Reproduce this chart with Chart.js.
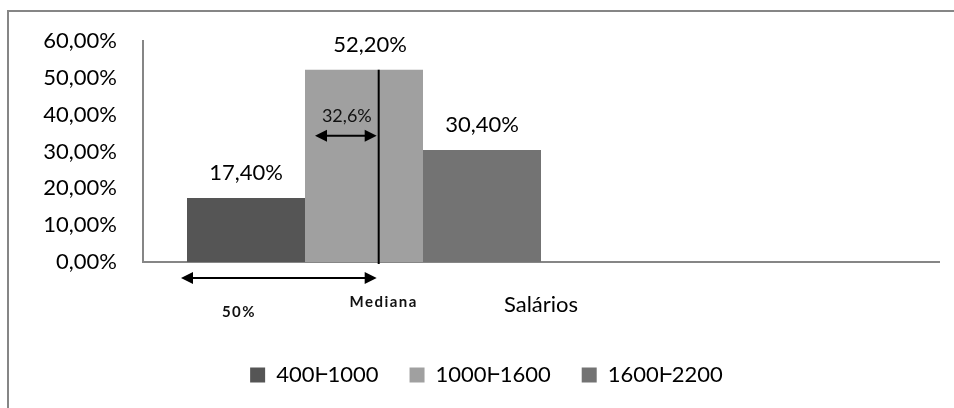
<!DOCTYPE html>
<html>
<head>
<meta charset="utf-8">
<title>Salários</title>
<script src="https://cdn.jsdelivr.net/npm/chart.js@4/dist/chart.umd.min.js"></script>
<style>
  html, body { margin: 0; padding: 0; background: #ffffff; }
  #wrap { width: 954px; height: 408px; position: relative; }
</style>
</head>
<body>
<div id="wrap"><canvas id="chart" width="954" height="408"></canvas></div>
<script>
// Salary classes and the share of employees in each one (%)
const categories = ['Salários'];
const classes = ['400\u2C751000', '1000\u2C751600', '1600\u2C752200'];
const shares = [17.4, 52.2, 30.4];
const classColors = ['#555555', '#a0a0a0', '#737373'];
const yTicks = [0, 10, 20, 30, 40, 50, 60];

const FONT = 'Lato, "Open Sans", sans-serif';
const pct2 = v => Number(v).toFixed(2).replace('.', ',') + '%';
const pct1 = v => Number(v).toFixed(1).replace('.', ',') + '%';

// three class bars plus three empty slots, so the group sits in the left half of the category
const datasets = classes.map((label, i) => ({
  label,
  data: [shares[i]],
  backgroundColor: classColors[i],
  borderWidth: 0
}));
for (let k = 0; k < 3; k++) {
  datasets.push({ label: '', data: [null], backgroundColor: 'rgba(0,0,0,0)', borderWidth: 0 });
}

function arrow(ctx, x1, x2, y) {
  const head = 12, half = 6;
  ctx.save();
  ctx.strokeStyle = '#000';
  ctx.fillStyle = '#000';
  ctx.lineWidth = 2;
  ctx.beginPath();
  ctx.moveTo(x1 + head - 2, y);
  ctx.lineTo(x2 - head + 2, y);
  ctx.stroke();
  ctx.beginPath();
  ctx.moveTo(x1, y); ctx.lineTo(x1 + head, y - half); ctx.lineTo(x1 + head, y + half); ctx.closePath();
  ctx.fill();
  ctx.beginPath();
  ctx.moveTo(x2, y); ctx.lineTo(x2 - head, y - half); ctx.lineTo(x2 - head, y + half); ctx.closePath();
  ctx.fill();
  ctx.restore();
}

const framePlugin = {
  id: 'frame',
  beforeDraw(chart) {
    const ctx = chart.ctx;
    ctx.save();
    ctx.fillStyle = '#ffffff';
    ctx.fillRect(0, 0, chart.width, chart.height);
    ctx.fillStyle = '#868686';
    ctx.fillRect(7, 10, chart.width - 7, 2);
    ctx.fillRect(7, 10, 2, chart.height - 10);
    ctx.restore();
  }
};

const notesPlugin = {
  id: 'notes',
  afterDatasetsDraw(chart) {
    const ctx = chart.ctx;
    const ys = chart.scales.y;
    const bars = [0, 1, 2].map(i => chart.getDatasetMeta(i).data[0]);

    // value labels above the bars
    ctx.save();
    ctx.fillStyle = '#000';
    ctx.font = '22px ' + FONT;
    ctx.textAlign = 'center';
    ctx.textBaseline = 'middle';
    bars.forEach((b, i) => {
      const dx = i === 1 ? 6 : 0;
      ctx.fillText(pct2(shares[i]), b.x + dx, b.y - 25);
    });
    ctx.restore();

    // median position inside the 1000-1600 class
    const b1 = bars[0], b2 = bars[1];
    const b1Left = b1.x - b1.width / 2;
    const b2Left = b2.x - b2.width / 2;
    const missing = 50 - shares[0];
    const medX = b2Left + b2.width * missing / shares[1];

    ctx.save();
    ctx.strokeStyle = '#000';
    ctx.lineWidth = 2;
    ctx.beginPath();
    ctx.moveTo(medX, b2.y);
    ctx.lineTo(medX, ys.bottom + 2);
    ctx.stroke();
    ctx.restore();

    // share still needed inside the median class
    const upY = ys.getPixelForValue(34.3);
    arrow(ctx, b2Left + 10, medX - 2, upY);
    ctx.save();
    ctx.fillStyle = '#111';
    ctx.font = '18px ' + FONT;
    ctx.textAlign = 'center';
    ctx.textBaseline = 'middle';
    ctx.fillText(pct1(missing), (b2Left + 10 + medX) / 2, upY - 19);
    ctx.restore();

    // first half of the distribution, up to the median
    const lowY = ys.bottom + 16;
    arrow(ctx, b1Left - 6, medX - 2, lowY);
    ctx.save();
    ctx.fillStyle = '#111';
    ctx.textAlign = 'center';
    ctx.textBaseline = 'middle';
    ctx.font = 'bold 15px ' + FONT;
    try { ctx.letterSpacing = '1.5px'; } catch (e) {}
    ctx.fillText('Mediana', medX + 5, ys.bottom + 40);
    ctx.fillText('50%', b1.x - 7, ys.bottom + 50);
    ctx.restore();
  }
};

new Chart(document.getElementById('chart'), {
  type: 'bar',
  data: { labels: categories, datasets },
  options: {
    responsive: false,
    animation: false,
    devicePixelRatio: 1,
    layout: { padding: { left: 34, right: 15, top: 41, bottom: 12 } },
    datasets: { bar: { categoryPercentage: 708 / 796, barPercentage: 1 } },
    scales: {
      x: {
        grid: { display: false, drawTicks: false },
        border: { display: true, color: '#868686', width: 2 },
        ticks: { color: '#000', font: { family: FONT, size: 22 }, padding: 30 },
        afterFit(scale) { scale.height = 71; }
      },
      y: {
        min: 0,
        max: 60,
        afterBuildTicks(scale) { scale.ticks = yTicks.map(v => ({ value: v })); },
        grid: { display: false, drawTicks: false },
        border: { display: true, color: '#868686', width: 2 },
        ticks: {
          color: '#000',
          font: { family: FONT, size: 22 },
          padding: 26,
          callback: v => pct2(v)
        },
        afterFit(scale) { scale.width = 109; }
      }
    },
    plugins: {
      legend: {
        position: 'bottom',
        labels: {
          filter: item => item.text !== '',
          boxWidth: 15,
          boxHeight: 15,
          padding: 31,
          color: '#000',
          font: { family: FONT, size: 22 }
        }
      },
      tooltip: { enabled: false }
    }
  },
  plugins: [framePlugin, notesPlugin]
});
</script>
</body>
</html>
